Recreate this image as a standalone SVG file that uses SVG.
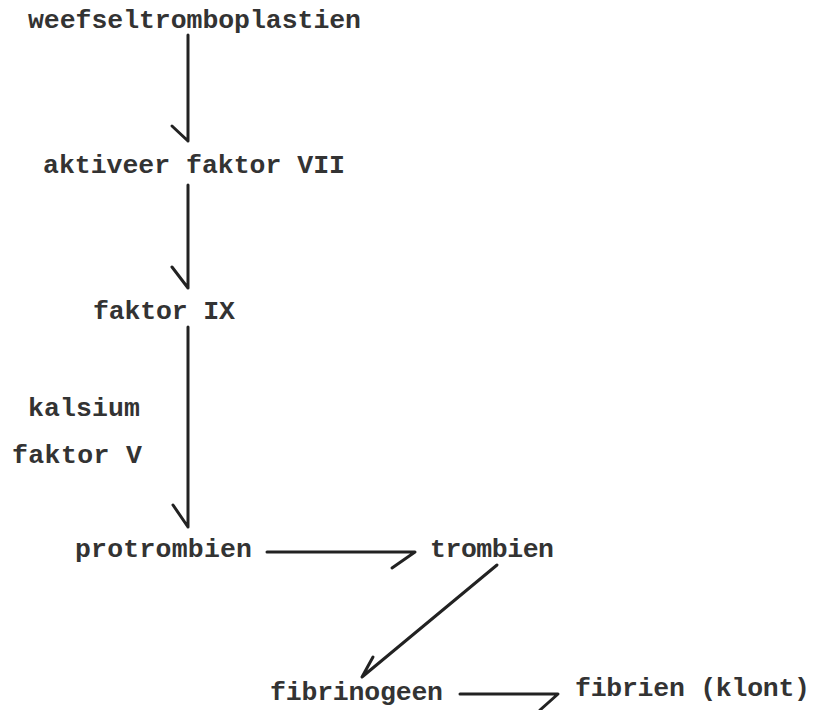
<svg xmlns="http://www.w3.org/2000/svg" width="823" height="710" viewBox="0 0 823 710">
<style>
text{font-family:"Liberation Mono","Courier New",monospace;font-weight:bold;font-size:26.5px;fill:#333}
.c{fill:none;stroke:#222;stroke-width:3;stroke-linecap:round;stroke-linejoin:round}
</style>
<rect width="823" height="710" fill="#fff"/>
<g id="connectors">
<path class="c" d="M188,35 V141 M172,126 L188,141"/>
<path class="c" d="M188,185 V288 M172,267 L188,288"/>
<path class="c" d="M188,327 V527 M173,505 L188,527"/>
<path class="c" d="M267,552 H415 L392,568"/>
<path class="c" d="M497,565 L362,677 L373,657"/>
<path class="c" d="M460,694 H558 L540,710"/>
</g>
<g id="n1"><text x="28" y="28" textLength="333">weefseltromboplastien</text></g>
<g id="n2"><text x="43" y="173" textLength="302">aktiveer faktor VII</text></g>
<g id="n3"><text x="93" y="319" textLength="142">faktor IX</text></g>
<g id="l1"><text x="28" y="416" textLength="112">kalsium</text></g>
<g id="l2"><text x="12" y="463" textLength="130">faktor V</text></g>
<g id="n4"><text x="75" y="557" textLength="177">protrombien</text></g>
<g id="n5"><text x="430" y="557" textLength="124">trombien</text></g>
<g id="n6"><text x="270" y="700" textLength="173">fibrinogeen</text></g>
<g id="n7"><text x="575" y="696" textLength="235">fibrien (klont)</text></g>
</svg>
